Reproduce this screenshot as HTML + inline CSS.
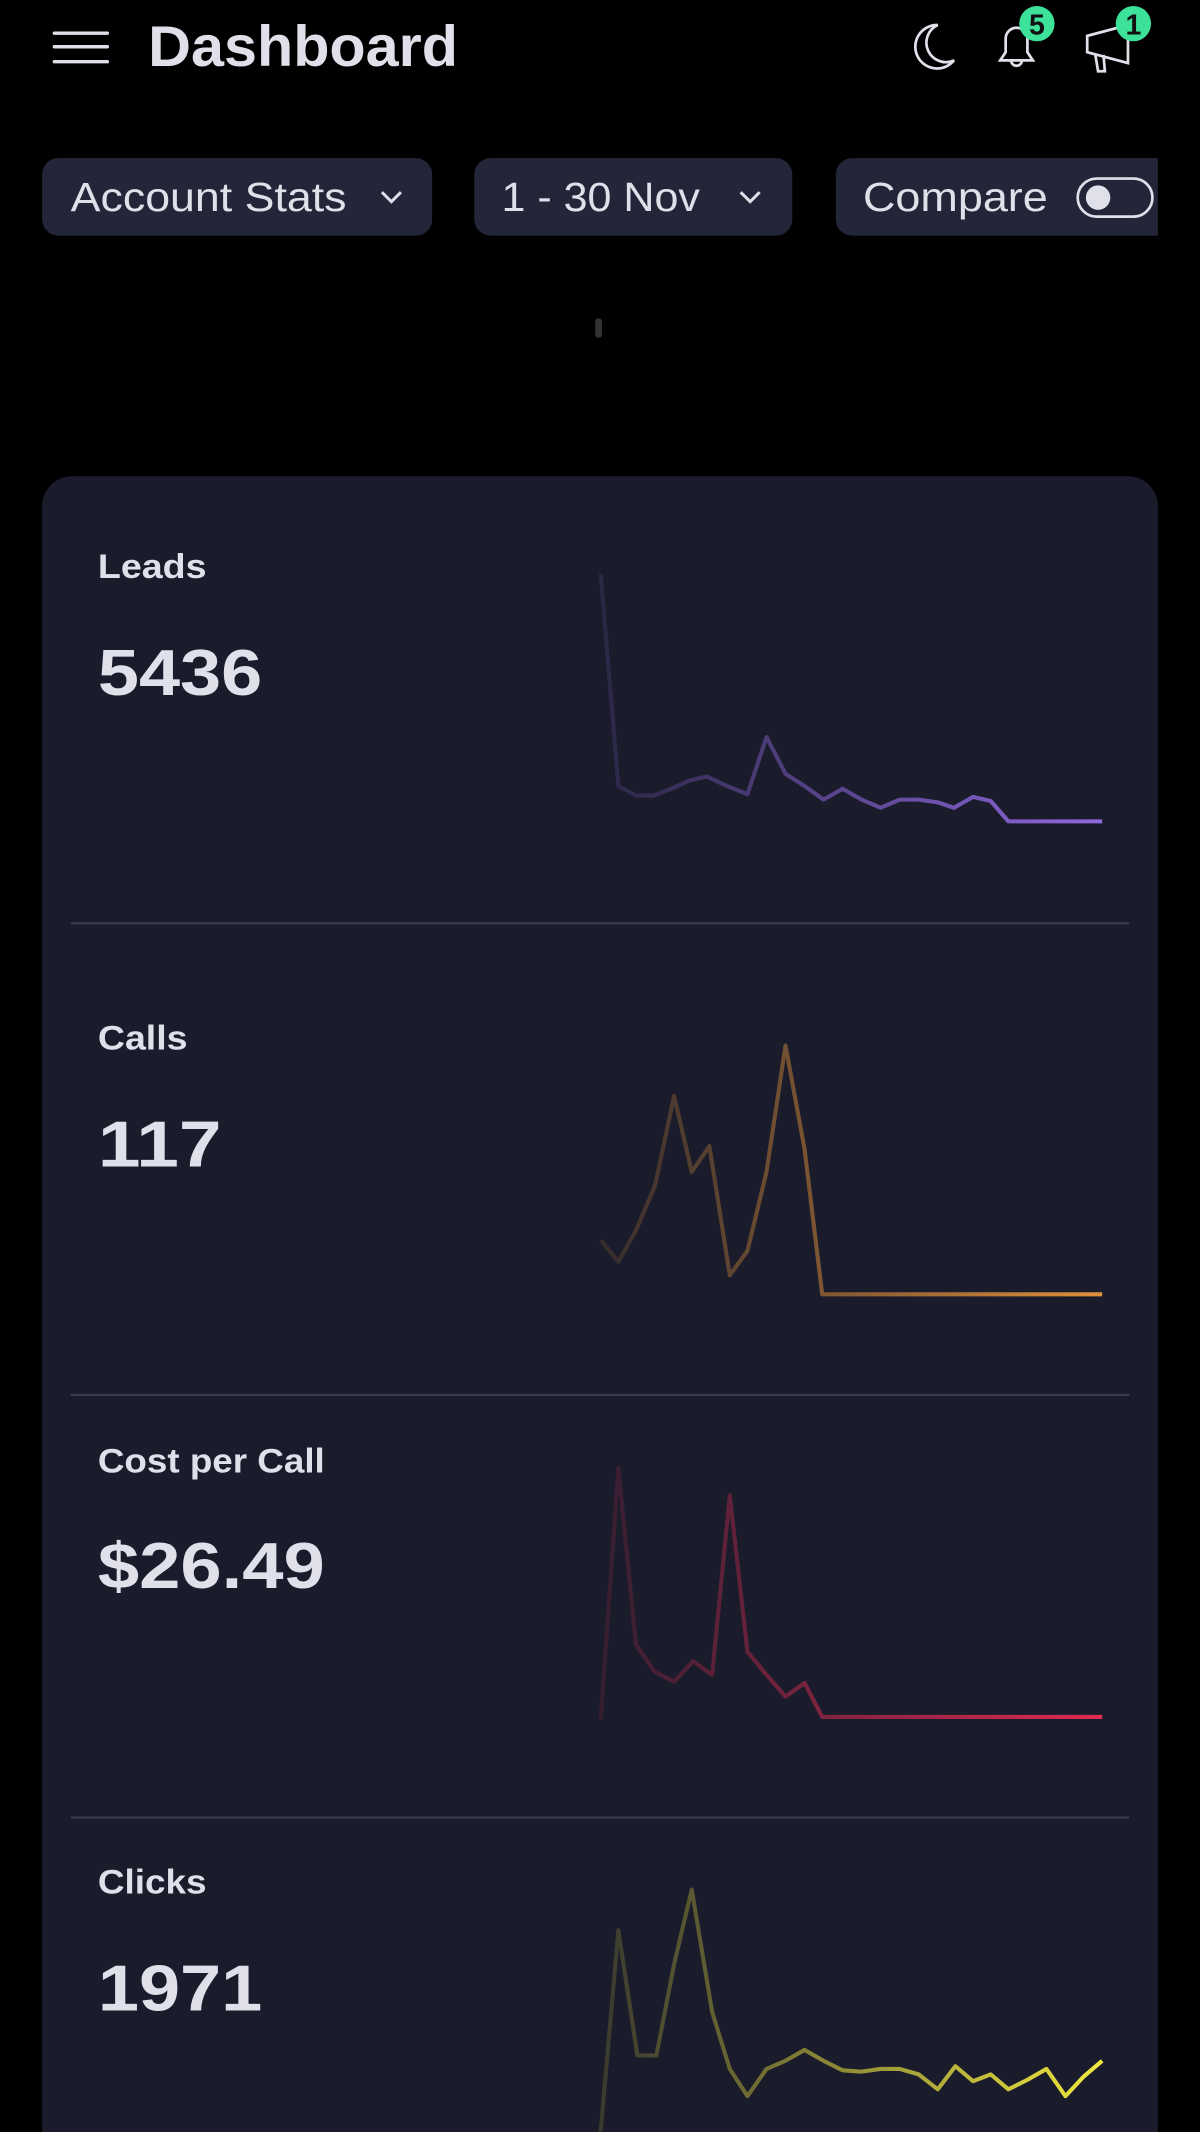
<!DOCTYPE html>
<html><head><meta charset="utf-8"><style>
html,body{margin:0;padding:0;background:#000;}
svg{display:block;}
text{font-family:"Liberation Sans",sans-serif;}
</style></head><body>
<svg width="1200" height="2132" viewBox="0 0 883 1568" xmlns="http://www.w3.org/2000/svg">
<defs>
<linearGradient id="gL" gradientUnits="userSpaceOnUse" x1="442" y1="0" x2="811" y2="0"><stop offset="0" stop-color="#8c64dc" stop-opacity="0.15"/><stop offset="1" stop-color="#9068e0"/></linearGradient>
<linearGradient id="gC" gradientUnits="userSpaceOnUse" x1="442" y1="0" x2="811" y2="0"><stop offset="0" stop-color="#d4883a" stop-opacity="0.15"/><stop offset="1" stop-color="#e0903a"/></linearGradient>
<linearGradient id="gP" gradientUnits="userSpaceOnUse" x1="442" y1="0" x2="811" y2="0"><stop offset="0" stop-color="#d62a50" stop-opacity="0.15"/><stop offset="1" stop-color="#e02a52"/></linearGradient>
<linearGradient id="gK" gradientUnits="userSpaceOnUse" x1="442" y1="0" x2="811" y2="0"><stop offset="0" stop-color="#e8e040" stop-opacity="0.15"/><stop offset="1" stop-color="#f0e840"/></linearGradient>
</defs>
<rect width="883" height="1568" fill="#000"/>
<g stroke="#e0e0ea" stroke-width="2.5" stroke-linecap="round">
<line x1="40" y1="24" x2="79" y2="24"/><line x1="40" y1="34" x2="79" y2="34"/><line x1="40" y1="45" x2="79" y2="45"/>
</g>
<text x="109" y="48" font-size="42" font-weight="bold" fill="#e0e0ea" textLength="228" lengthAdjust="spacingAndGlyphs">Dashboard</text>
<path d="M690 18 A16 16 0 1 0 702 44 A13 13 0 0 1 690 18 Z" fill="none" stroke="#e0e0ea" stroke-width="2"/>
<path d="M736 44 L760 44 L756 38 L756 28 A8 8 0 0 0 740 28 L740 38 Z M744 44 A4 4 0 0 0 752 44" fill="none" stroke="#e0e0ea" stroke-width="2"/>
<path d="M800 26 L830 18 L830 46 L800 38 Z M806 40 L808 52 L813 52 L812 40" fill="none" stroke="#e0e0ea" stroke-width="2"/>
<circle cx="763" cy="17" r="13" fill="#3de29a"/><text x="763" y="25" font-size="21" font-weight="bold" fill="#111" text-anchor="middle">5</text>
<circle cx="834" cy="17" r="13" fill="#3de29a"/><text x="834" y="25" font-size="21" font-weight="bold" fill="#111" text-anchor="middle">1</text>
<rect x="31" y="116" width="287" height="57" rx="12" fill="#232638"/>
<text x="52" y="155" font-size="30" fill="#e0e0ea" textLength="203" lengthAdjust="spacingAndGlyphs">Account Stats</text>
<path d="M281 141 L288 148 L295 141" fill="none" stroke="#e0e0ea" stroke-width="2.2"/>
<rect x="349" y="116" width="234" height="57" rx="12" fill="#232638"/>
<text x="369" y="155" font-size="30" fill="#e0e0ea" textLength="146" lengthAdjust="spacingAndGlyphs">1 - 30 Nov</text>
<path d="M545 141 L552 148 L559 141" fill="none" stroke="#e0e0ea" stroke-width="2.2"/>
<path d="M627 116 H852 V173 H627 A12 12 0 0 1 615 161 V128 A12 12 0 0 1 627 116 Z" fill="#232638"/>
<text x="635" y="155" font-size="30" fill="#e0e0ea" textLength="136" lengthAdjust="spacingAndGlyphs">Compare</text>
<rect x="793" y="131" width="55" height="28" rx="14" fill="none" stroke="#e0e0ea" stroke-width="2"/>
<circle cx="808" cy="145" r="9" fill="#e0e0ea"/>
<rect x="438" y="234" width="5" height="14" rx="2" fill="#333"/>
<rect x="31" y="350" width="821" height="1260" rx="22" fill="#1a1c2b"/>
<g stroke="#3a3d52" stroke-width="1.5">
<line x1="52" y1="679" x2="831" y2="679"/><line x1="52" y1="1026" x2="831" y2="1026"/><line x1="52" y1="1337" x2="831" y2="1337"/>
</g>
<g fill="#e0e0ea" font-weight="bold">
<text x="72" y="425" font-size="25" textLength="80" lengthAdjust="spacingAndGlyphs">Leads</text><text x="72" y="511" font-size="48" textLength="121" lengthAdjust="spacingAndGlyphs">5436</text>
<text x="72" y="772" font-size="25" textLength="66" lengthAdjust="spacingAndGlyphs">Calls</text><text x="72" y="858" font-size="48" textLength="91" lengthAdjust="spacingAndGlyphs">117</text>
<text x="72" y="1083" font-size="25" textLength="167" lengthAdjust="spacingAndGlyphs">Cost per Call</text><text x="72" y="1168" font-size="48" textLength="167" lengthAdjust="spacingAndGlyphs">$26.49</text>
<text x="72" y="1393" font-size="25" textLength="80" lengthAdjust="spacingAndGlyphs">Clicks</text><text x="72" y="1479" font-size="48" textLength="121" lengthAdjust="spacingAndGlyphs">1971</text>
</g>
<g fill="none" stroke-width="3" stroke-linejoin="round">
<polyline stroke="url(#gL)" points="442,422 455,578 468,585 481,585 494,580 507,574 520,571 535,578 550,584 564,542 578,569 592,578 606,588 620,580 634,588 648,594 662,588 676,588 690,590 702,594 716,586 729,589 742,604 811,604"/>
<polyline stroke="url(#gC)" points="442,912 455,928 468,905 482,872 496,806 509,862 522,843 537,938 550,920 564,862 578,769 592,845 605,952 811,952"/>
<polyline stroke="url(#gP)" points="442,1265 455,1080 468,1210 482,1230 496,1237 510,1222 524,1232 537,1100 550,1215 564,1232 578,1248 592,1238 605,1263 811,1263"/>
<polyline stroke="url(#gK)" points="442,1568 455,1420 469,1512 483,1512 496,1445 509,1390 524,1480 537,1522 550,1542 564,1522 578,1516 592,1508 606,1516 620,1523 634,1524 648,1522 662,1522 676,1526 690,1537 703,1520 716,1531 729,1526 742,1537 756,1530 770,1522 784,1542 797,1528 811,1516"/>
</g>
</svg>
</body></html>
